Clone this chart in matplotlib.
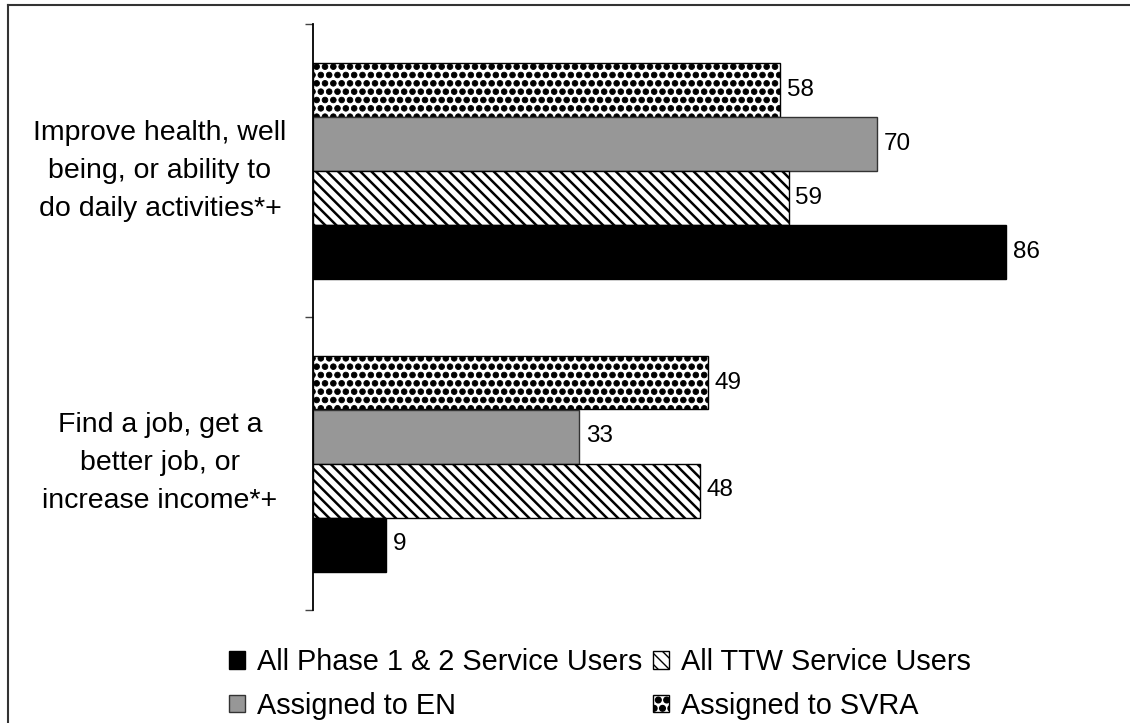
import matplotlib
matplotlib.use("Agg")
import matplotlib.pyplot as plt
import matplotlib.hatch as mhatch
from matplotlib.transforms import blended_transform_factory
from matplotlib.lines import Line2D

# Data
categories = [
    "Improve health, well\nbeing, or ability to\ndo daily activities*+",
    "Find a job, get a\nbetter job, or\nincrease income*+",
]
series_names = [
    "All Phase 1 & 2 Service Users",
    "Assigned to EN",
    "All TTW Service Users",
    "Assigned to SVRA",
]
phase_users = [86, 9]
assigned_en = [70, 33]
ttw_users = [59, 48]
assigned_svra = [58, 49]

plt.rcParams['font.family'] = ['Liberation Sans', 'DejaVu Sans']

# Larger filled dots for the checkered pattern
mhatch.SmallFilledCircles.size = 0.34

W, H = 1130, 723
fig = plt.figure(figsize=(W / 100, H / 100), dpi=100)
ax = fig.add_axes([313 / W, 1 - 610 / H, 806 / W, (610 - 24) / H])

h = 54 / 293.0
centers = [0.5, 1.5]
series = [
    (assigned_svra, -1.5, dict(color='white', hatch='..', edgecolor='black'), 0.6),
    (assigned_en, -0.5, dict(color='#979797', edgecolor='#333333'), 1.0),
    (ttw_users, 0.5, dict(color='white', hatch='\\\\\\', edgecolor='black'), 1.8),
    (phase_users, 1.5, dict(color='black', edgecolor='black'), 1.0),
]

bars = {}
for vals, off, style, hlw in series:
    with plt.rc_context({'hatch.linewidth': hlw, 'hatch.color': 'black'}):
        ys = [c + off * h for c in centers]
        b = ax.barh(ys, vals, height=h, linewidth=1.0, **style)
    bars[id(vals)] = b
    for y, v in zip(ys, vals):
        ax.annotate(f"{v}", xy=(v, y), xytext=(5, 0), textcoords='offset points',
                    ha='left', va='center', fontsize=17.5)

ax.set_xlim(0, 100)
ax.set_ylim(2, 0)
ax.set_yticks([0, 1, 2])
ax.set_yticklabels([])
ax.tick_params(axis='y', direction='out', length=6, width=1, color='#444444')
ax.set_xticks([])
for s in ['top', 'right', 'bottom']:
    ax.spines[s].set_visible(False)
ax.spines['left'].set_linewidth(1.3)

trans = blended_transform_factory(fig.transFigure, ax.transData)
for c, lab in zip(centers, categories):
    ax.text(160 / W, c, lab, transform=trans, ha='center', va='center',
            multialignment='center', fontsize=20.5, linespacing=1.6)

# Legend: column-wise fill gives rows [Phase, TTW] and [EN, SVRA]
handles = [bars[id(phase_users)][0], bars[id(assigned_en)][0],
           bars[id(ttw_users)][0], bars[id(assigned_svra)][0]]
fig.legend(handles, series_names, loc='center',
           bbox_to_anchor=(600 / W, 1 - 684 / H), ncol=2, frameon=False,
           fontsize=20.8, handlelength=0.55, handleheight=0.55,
           handletextpad=0.42, columnspacing=0.4, labelspacing=0.55,
           borderpad=0)

# Outer frame
fig.add_artist(Line2D([8 / W, 1.0], [1 - 5 / H, 1 - 5 / H], transform=fig.transFigure,
                      color='#333333', linewidth=1.5))
fig.add_artist(Line2D([8 / W, 8 / W], [0, 1 - 5 / H], transform=fig.transFigure,
                      color='#333333', linewidth=1.5))

fig.savefig("out.png", dpi=100)
